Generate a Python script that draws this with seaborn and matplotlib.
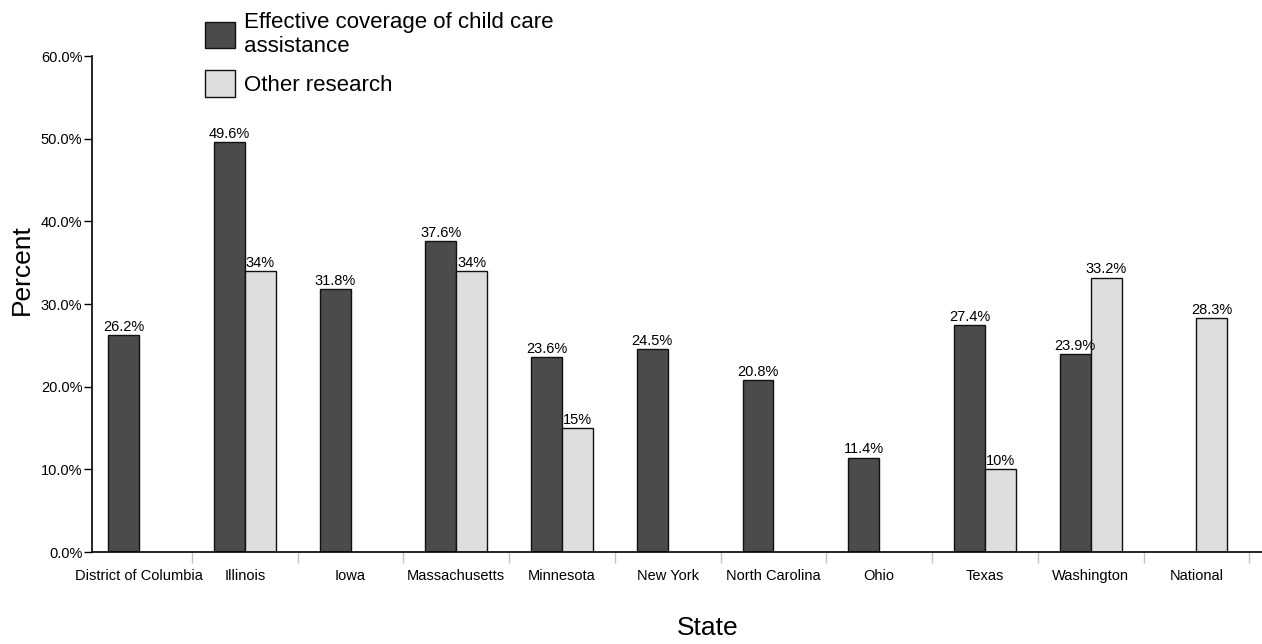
import numpy as np
import pandas as pd
import matplotlib
matplotlib.use("Agg")
import matplotlib.pyplot as plt
import seaborn as sns
from matplotlib.ticker import FixedLocator

states = ["District of Columbia", "Illinois", "Iowa", "Massachusetts", "Minnesota",
          "New York", "North Carolina", "Ohio", "Texas", "Washington", "National"]
effective = [26.2, 49.6, 31.8, 37.6, 23.6, 24.5, 20.8, 11.4, 27.4, 23.9, np.nan]
other = [np.nan, 34, np.nan, 34, 15, np.nan, np.nan, np.nan, 10, 33.2, 28.3]
series_names = ["Effective coverage of child care\nassistance", "Other research"]
yticks = [0, 10, 20, 30, 40, 50, 60]
ytick_labels = ["0.0%", "10.0%", "20.0%", "30.0%", "40.0%", "50.0%", "60.0%"]

sns.set_theme(style="white")
plt.rcParams['font.family'] = ['Liberation Sans', 'DejaVu Sans']
plt.rcParams.update({"text.color": "black", "axes.labelcolor": "black",
                     "xtick.color": "black", "ytick.color": "black"})

rows = []
for s, e, o in zip(states, effective, other):
    rows.append({"State": s, "Series": series_names[0], "Percent": e})
    rows.append({"State": s, "Series": series_names[1], "Percent": o})
df = pd.DataFrame(rows).dropna()

fig = plt.figure(figsize=(12.62, 6.44), dpi=100)
ax = fig.add_axes([92 / 1262, 92 / 644, (1262 - 92) / 1262, (552 - 56) / 644])

sns.barplot(data=df, x="State", y="Percent", hue="Series", order=states,
            hue_order=series_names, palette=["#4b4b4b", "#dedede"],
            width=0.586, gap=0, edgecolor="#111111", linewidth=1.0,
            errorbar=None, ax=ax, legend=True, saturation=1)

fmts = [lambda v: f"{v:.1f}%", lambda v: f"{v:g}%"]
for cont, f in zip(ax.containers, fmts):
    ax.bar_label(cont, fmt=f, padding=1, fontsize=10.5, color="black")

ax.set_xlim(-0.445, 10.62)
ax.set_ylim(0, 60)
ax.set_yticks(yticks)
ax.set_yticklabels(ytick_labels, fontsize=10.5)
ax.tick_params(axis="y", which="major", direction="out", length=6, width=1,
               color="black", labelcolor="black", left=True, pad=1)
ax.tick_params(axis="x", which="major", length=0, pad=12, labelsize=10.5,
               labelcolor="black")
ax.xaxis.set_minor_locator(FixedLocator(np.arange(-0.5, len(states), 1.0)))
ax.tick_params(axis="x", which="minor", direction="out", length=8, width=1,
               color="#c4c4c4", bottom=True)

for side in ["top", "right"]:
    ax.spines[side].set_visible(False)
for side in ["left", "bottom"]:
    ax.spines[side].set_color("black")
    ax.spines[side].set_linewidth(1.2)

ax.set_xlabel("")
ax.set_ylabel("")
fig.text(22 / 1262, 1 - 270 / 644, "Percent", rotation=90, fontsize=19,
         ha="center", va="center", color="black")
fig.text(708 / 1262, 1 - 628 / 644, "State", fontsize=19, ha="center",
         va="center", color="black")

handles, labels = ax.get_legend_handles_labels()
if ax.legend_:
    ax.legend_.remove()
leg = fig.legend(handles, series_names, loc="upper left",
                 bbox_to_anchor=(196 / 1262, 1 - 3 / 644), frameon=False,
                 fontsize=16, handlelength=1.35, handleheight=1.45,
                 handletextpad=0.4, labelspacing=0.6, borderaxespad=0,
                 labelcolor="black")

fig.savefig("out.png", dpi=100, facecolor="white")
